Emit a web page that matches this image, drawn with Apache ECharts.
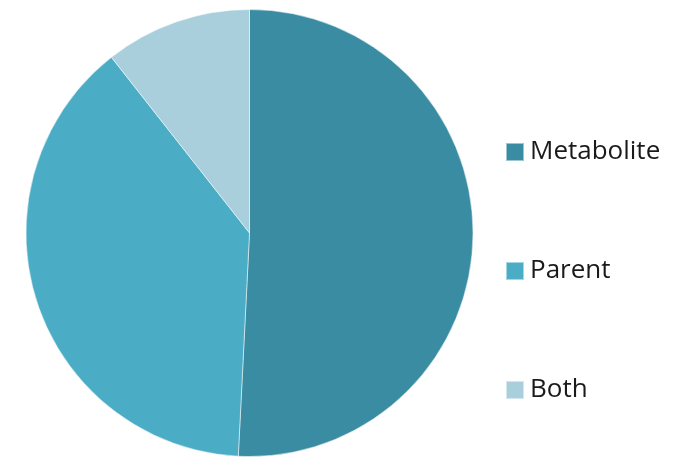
<!DOCTYPE html>
<html>
<head>
<meta charset="utf-8">
<style>
  html, body { margin: 0; padding: 0; background: #ffffff; }
  #chart { width: 692px; height: 457px; }
</style>
<script src="https://cdn.jsdelivr.net/npm/echarts@6/dist/echarts.min.js"></script>
</head>
<body>
<div id="chart"></div>
<script>
// Share of each origin class (percent)
const categories = ['Metabolite', 'Parent', 'Both'];
const shares = [50.8, 38.6, 10.6];
const colors = ['#3a8ca3', '#4bacc6', '#a9cfdd'];

const chart = echarts.init(document.getElementById('chart'), null, { renderer: 'canvas' });

chart.setOption({
  animation: false,
  color: colors,
  legend: {
    orient: 'vertical',
    left: 500,
    top: 134,
    icon: 'rect',
    itemWidth: 18,
    itemHeight: 18,
    itemGap: 93,
    data: categories,
    textStyle: {
      fontFamily: 'Open Sans',
      fontSize: 26,
      color: '#1a1a1a',
      padding: [0, 0, 0, 1]
    }
  },
  series: [{
    type: 'pie',
    center: [249.5, 233],
    radius: [0, 223.5],
    startAngle: 90,
    clockwise: true,
    label: { show: false },
    labelLine: { show: false },
    emphasis: { disabled: true },
    itemStyle: { borderColor: 'rgba(255,255,255,0.5)', borderWidth: 1 },
    data: categories.map((name, i) => ({ name, value: shares[i] }))
  }]
});
</script>
</body>
</html>
